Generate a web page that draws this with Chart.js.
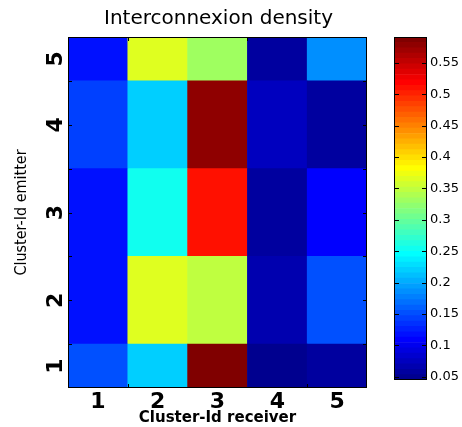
<!DOCTYPE html>
<html>
<head>
<meta charset="utf-8">
<script src="https://cdn.jsdelivr.net/npm/chart.js@4.4.0/dist/chart.umd.min.js"></script>
<style>
    html, body { margin: 0; padding: 0; background: #fff; }
    #wrap { position: relative; width: 462px; height: 427px; overflow: hidden; }
    #main { position: absolute; left: 0; top: 0; }
    #cbar { position: absolute; left: 390px; top: 0; }
</style>
</head>
<body>
<div id="wrap">
    <canvas id="main" width="380" height="427"></canvas>
    <canvas id="cbar" width="72" height="427"></canvas>
</div>
<script>
// --- data ---
const chartTitle = 'Interconnexion density';
const receivers = ['1', '2', '3', '4', '5'];
const emitters = ['1', '2', '3', '4', '5'];

// one array per emitter cluster, values per receiver 1..5
const emitter1 = [0.149, 0.216, 0.591, 0.045, 0.062];
const emitter2 = [0.119, 0.369, 0.351, 0.067, 0.154];
const emitter3 = [0.121, 0.258, 0.510, 0.054, 0.105];
const emitter4 = [0.146, 0.216, 0.575, 0.071, 0.054];
const emitter5 = [0.118, 0.369, 0.334, 0.054, 0.182];
const rows = [emitter1, emitter2, emitter3, emitter4, emitter5];

const cbarTicks = [0.05, 0.1, 0.15, 0.2, 0.25, 0.3, 0.35, 0.4, 0.45, 0.5, 0.55];
const yTickMarks = [1.5, 2, 2.5, 3, 3.5, 4, 4.5];
const xTickMarksTop = [1.5, 3.5];
const xTickMarksBottom = [1.5, 4.5];

const yMin = 1, yMax = 5;
const nLevels = 64;

const allValues = rows.flat();
const cmin = Math.min(...allValues);
const cmax = Math.max(...allValues);

// matlab style jet(m) colour table
function jetColor(idx, m) {
    const n = Math.ceil(m / 4);
    const u = [];
    for (let k = 1; k <= n; k++) u.push(k / n);
    for (let k = 1; k < n; k++) u.push(1);
    for (let k = n; k >= 1; k--) u.push(k / n);
    const g0 = Math.ceil(n / 2) - (m % 4 === 1 ? 1 : 0);
    const at = k => (k >= 1 && k <= u.length) ? u[k - 1] : 0;
    const i = idx + 1;
    const r = at(i - g0 - n), g = at(i - g0), b = at(i - g0 + n);
    return `rgb(${Math.round(r * 255)},${Math.round(g * 255)},${Math.round(b * 255)})`;
}

function colorFor(v) {
    let idx = Math.floor((v - cmin) / (cmax - cmin) * nLevels);
    idx = Math.max(0, Math.min(nLevels - 1, idx));
    return jetColor(idx, nLevels);
}

// labels sit in the middle of the visible part of each row
const yLabelPos = emitters.map((e, r) => {
    const lo = Math.max(r + 0.5, yMin), hi = Math.min(r + 1.5, yMax);
    return (lo + hi) / 2;
});

// frame + inward tick marks like matlab axes
const framePlugin = {
    id: 'frame',
    afterDatasetsDraw(chart, args, opts) {
        const { ctx, chartArea: a } = chart;
        const len = opts.len || 4;
        ctx.save();
        ctx.strokeStyle = '#000';
        ctx.lineWidth = 1;
        ctx.beginPath();
        const ys = chart.scales.y;
        (opts.yTicks || []).forEach(v => {
            const py = Math.round(ys.getPixelForValue(v)) + 0.5;
            ctx.moveTo(a.left, py); ctx.lineTo(a.left + len, py);
            ctx.moveTo(a.right, py); ctx.lineTo(a.right - len, py);
        });
        const xs = chart.scales.x;
        const xPix = v => Math.round(xs.getPixelForValue(v - 1)) + 0.5;
        (opts.xTop || []).forEach(v => {
            const px = xPix(v);
            ctx.moveTo(px, a.top); ctx.lineTo(px, a.top + len);
        });
        (opts.xBottom || []).forEach(v => {
            const px = xPix(v);
            ctx.moveTo(px, a.bottom); ctx.lineTo(px, a.bottom - len);
        });
        ctx.stroke();
        ctx.strokeRect(Math.round(a.left) + 0.5, Math.round(a.top) + 0.5,
            Math.round(a.width) - 1, Math.round(a.height) - 1);
        ctx.restore();
    }
};

const titlePlugin = {
    id: 'topTitle',
    afterDraw(chart, args, opts) {
        if (!opts.text) return;
        const { ctx, chartArea: a } = chart;
        ctx.save();
        ctx.font = '20px "DejaVu Sans"';
        ctx.fillStyle = '#000';
        ctx.textAlign = 'center';
        ctx.textBaseline = 'middle';
        ctx.fillText(opts.text, (a.left + a.right) / 2 + 1, 19);
        ctx.restore();
    }
};

Chart.defaults.color = '#000';
Chart.defaults.animation = false;

new Chart(document.getElementById('main'), {
    type: 'bar',
    data: {
        labels: receivers,
        datasets: rows.map((vals, r) => ({
            label: 'emitter ' + emitters[r],
            data: vals.map(() => [r + 0.5, r + 1.5]),
            backgroundColor: vals.map(v => colorFor(v)),
            borderWidth: 0,
            barPercentage: 1,
            categoryPercentage: 1,
            grouped: false,
            clip: { left: 0, top: 0, right: 0, bottom: 0 }
        }))
    },
    options: {
        responsive: false,
        devicePixelRatio: 1,
        events: [],
        layout: { padding: { top: 37, right: 13, left: 0, bottom: 0 } },
        plugins: {
            legend: { display: false },
            tooltip: { enabled: false },
            frame: { yTicks: yTickMarks, xTop: xTickMarksTop, xBottom: xTickMarksBottom, len: 4 },
            topTitle: { text: chartTitle }
        },
        scales: {
            x: {
                grid: { display: false, drawTicks: false },
                border: { display: false },
                ticks: { font: { family: 'DejaVu Sans', size: 22, weight: 'bold' }, padding: 1, maxRotation: 0 },
                title: {
                    display: true, text: 'Cluster-Id receiver',
                    font: { family: 'DejaVu Sans', size: 15, weight: 'bold' },
                    padding: { top: 0, bottom: 0 }
                },
                afterFit: s => { s.height = 39; }
            },
            y: {
                min: yMin, max: yMax,
                grid: { display: false, drawTicks: false },
                border: { display: false },
                afterBuildTicks: s => { s.ticks = yLabelPos.map(v => ({ value: v })); },
                ticks: {
                    font: { family: 'DejaVu Sans', size: 22, weight: 'bold' },
                    minRotation: 90, maxRotation: 90,
                    crossAlign: 'center',
                    padding: 4,
                    callback: (v, i) => emitters[i]
                },
                title: {
                    display: true, text: 'Cluster-Id emitter',
                    font: { family: '"DejaVu Sans Condensed", sans-serif', size: 16 },
                    padding: { top: 12, bottom: 0 }
                },
                afterFit: s => { s.width = 68; }
            }
        }
    },
    plugins: [framePlugin, titlePlugin]
});

// colour bar
const step = (cmax - cmin) / nLevels;
new Chart(document.getElementById('cbar'), {
    type: 'bar',
    data: {
        labels: [''],
        datasets: Array.from({ length: nLevels }, (_, i) => ({
            data: [[cmin + i * step, cmin + (i + 1) * step]],
            backgroundColor: jetColor(i, nLevels),
            borderWidth: 0,
            barPercentage: 1,
            categoryPercentage: 1,
            grouped: false
        }))
    },
    options: {
        responsive: false,
        devicePixelRatio: 1,
        events: [],
        layout: { padding: { top: 37, right: 0, left: 4, bottom: 47 } },
        plugins: {
            legend: { display: false },
            tooltip: { enabled: false },
            frame: { yTicks: cbarTicks, len: 5 }
        },
        scales: {
            x: { display: false },
            y: {
                position: 'right',
                min: cmin, max: cmax,
                grid: { display: false, drawTicks: false },
                border: { display: false },
                afterBuildTicks: s => { s.ticks = cbarTicks.map(v => ({ value: v })); },
                ticks: {
                    font: { family: 'DejaVu Sans', size: 13 },
                    padding: 3,
                    callback: v => String(+v.toFixed(2))
                },
                afterFit: s => { s.width = 35; }
            }
        }
    },
    plugins: [framePlugin]
});
</script>
</body>
</html>
